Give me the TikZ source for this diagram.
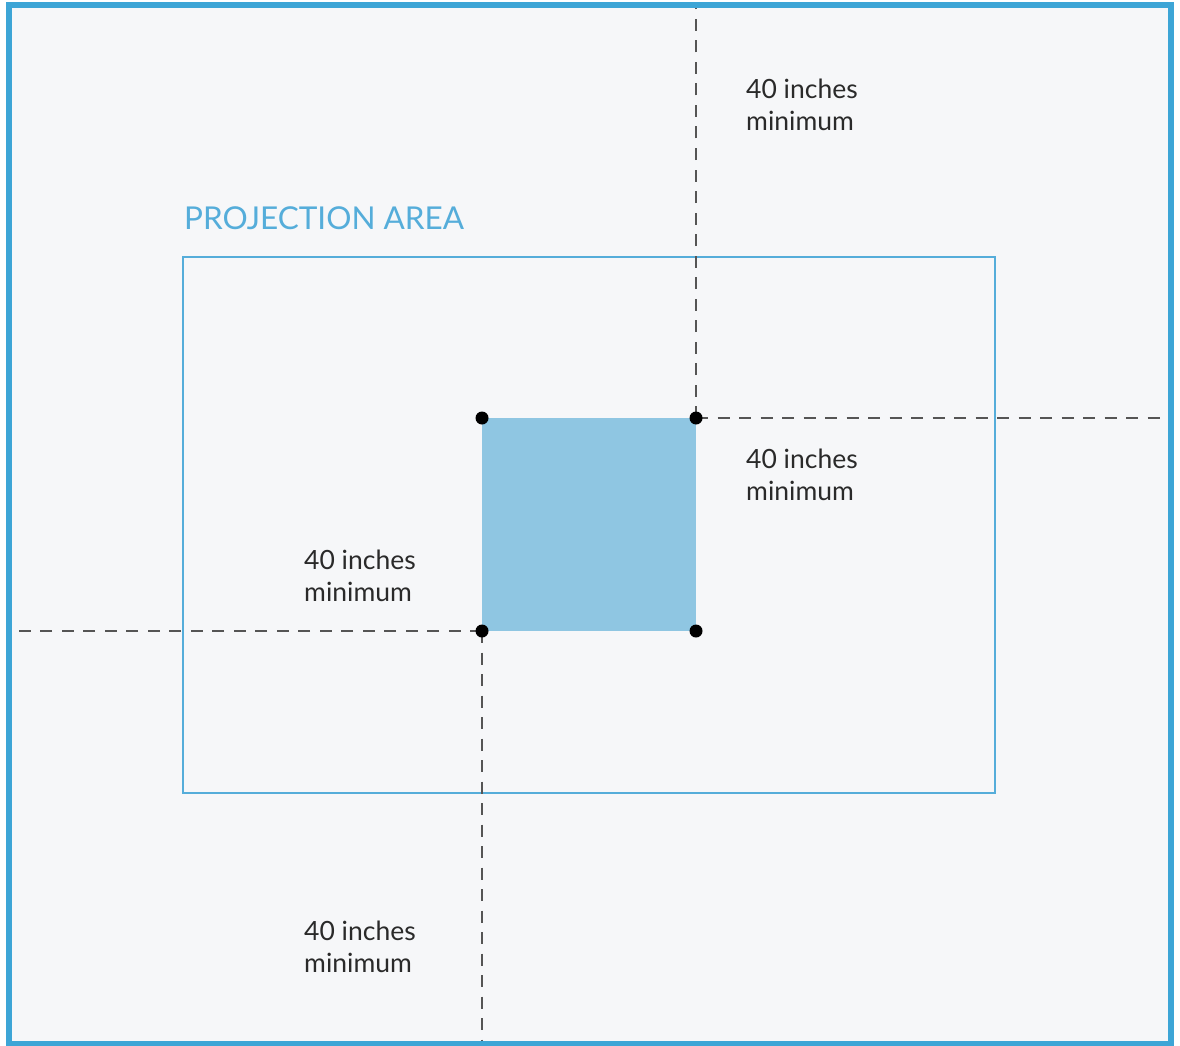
\documentclass[tikz,border=0pt]{standalone}
\usepackage{fontspec}
\setmainfont{Lato}
\definecolor{bg}{HTML}{F6F7F9}
\definecolor{frameblue}{HTML}{3DA5D6}
\definecolor{areablue}{HTML}{55ADDA}
\definecolor{sqblue}{HTML}{8FC6E2}
\definecolor{dashgray}{HTML}{555555}
\definecolor{txt}{HTML}{2A2A2A}
\tikzset{
  dim/.style={draw=dashgray, line width=2pt, dash pattern=on 12pt off 9.5pt},
  dot/.style={circle, fill=black, inner sep=0pt, minimum size=13pt},
  lbl/.style={anchor=north west, inner sep=0pt, align=left, text=txt, font=\fontsize{26.5}{32}\selectfont},
}
\begin{document}
\begin{tikzpicture}[x=1pt,y=-1pt]
\useasboundingbox (0,0) rectangle (1180,1046);
\fill[white] (0,0) rectangle (1180,1046);
\fill[bg] (8,5) rectangle (1171,1044);
% projection area
\draw[areablue, line width=2.8pt] (183,257) rectangle (995,793);
\node[anchor=west, inner sep=0pt, text=areablue, font=\fontsize{31.5}{36}\selectfont] (title) at (184,218) {PROJECTION AREA};
% square
\fill[sqblue] (482,418) rectangle (696,631);
\coordinate (tl) at (482,418);
\coordinate (tr) at (696,418);
\coordinate (bl) at (482,631);
\coordinate (br) at (696,631);
\coordinate (topend) at (696,3);
\coordinate (rightend) at (1170,418);
\coordinate (leftend) at (18,631);
\coordinate (botend) at (482,1046);
\draw[dim] (tr) -- (topend);
\draw[dim] (tr) -- (rightend);
\draw[dim] (bl) -- (leftend);
\draw[dim] (bl) -- (botend);
\node[dot] (d1) at (tl) {};
\node[dot] (d2) at (tr) {};
\node[dot] (d3) at (bl) {};
\node[dot] (d4) at (br) {};
% labels
\node[lbl] (l1) at (746,79) {40 inches\\minimum};
\node[lbl] (l2) at (746,449) {40 inches\\minimum};
\node[lbl] (l3) at (304,550) {40 inches\\minimum};
\node[lbl] (l4) at (304,921) {40 inches\\minimum};
% outer frame
\draw[frameblue, line width=6pt] (8.5,5.5) rectangle (1171,1043.5);
\end{tikzpicture}
\end{document}
